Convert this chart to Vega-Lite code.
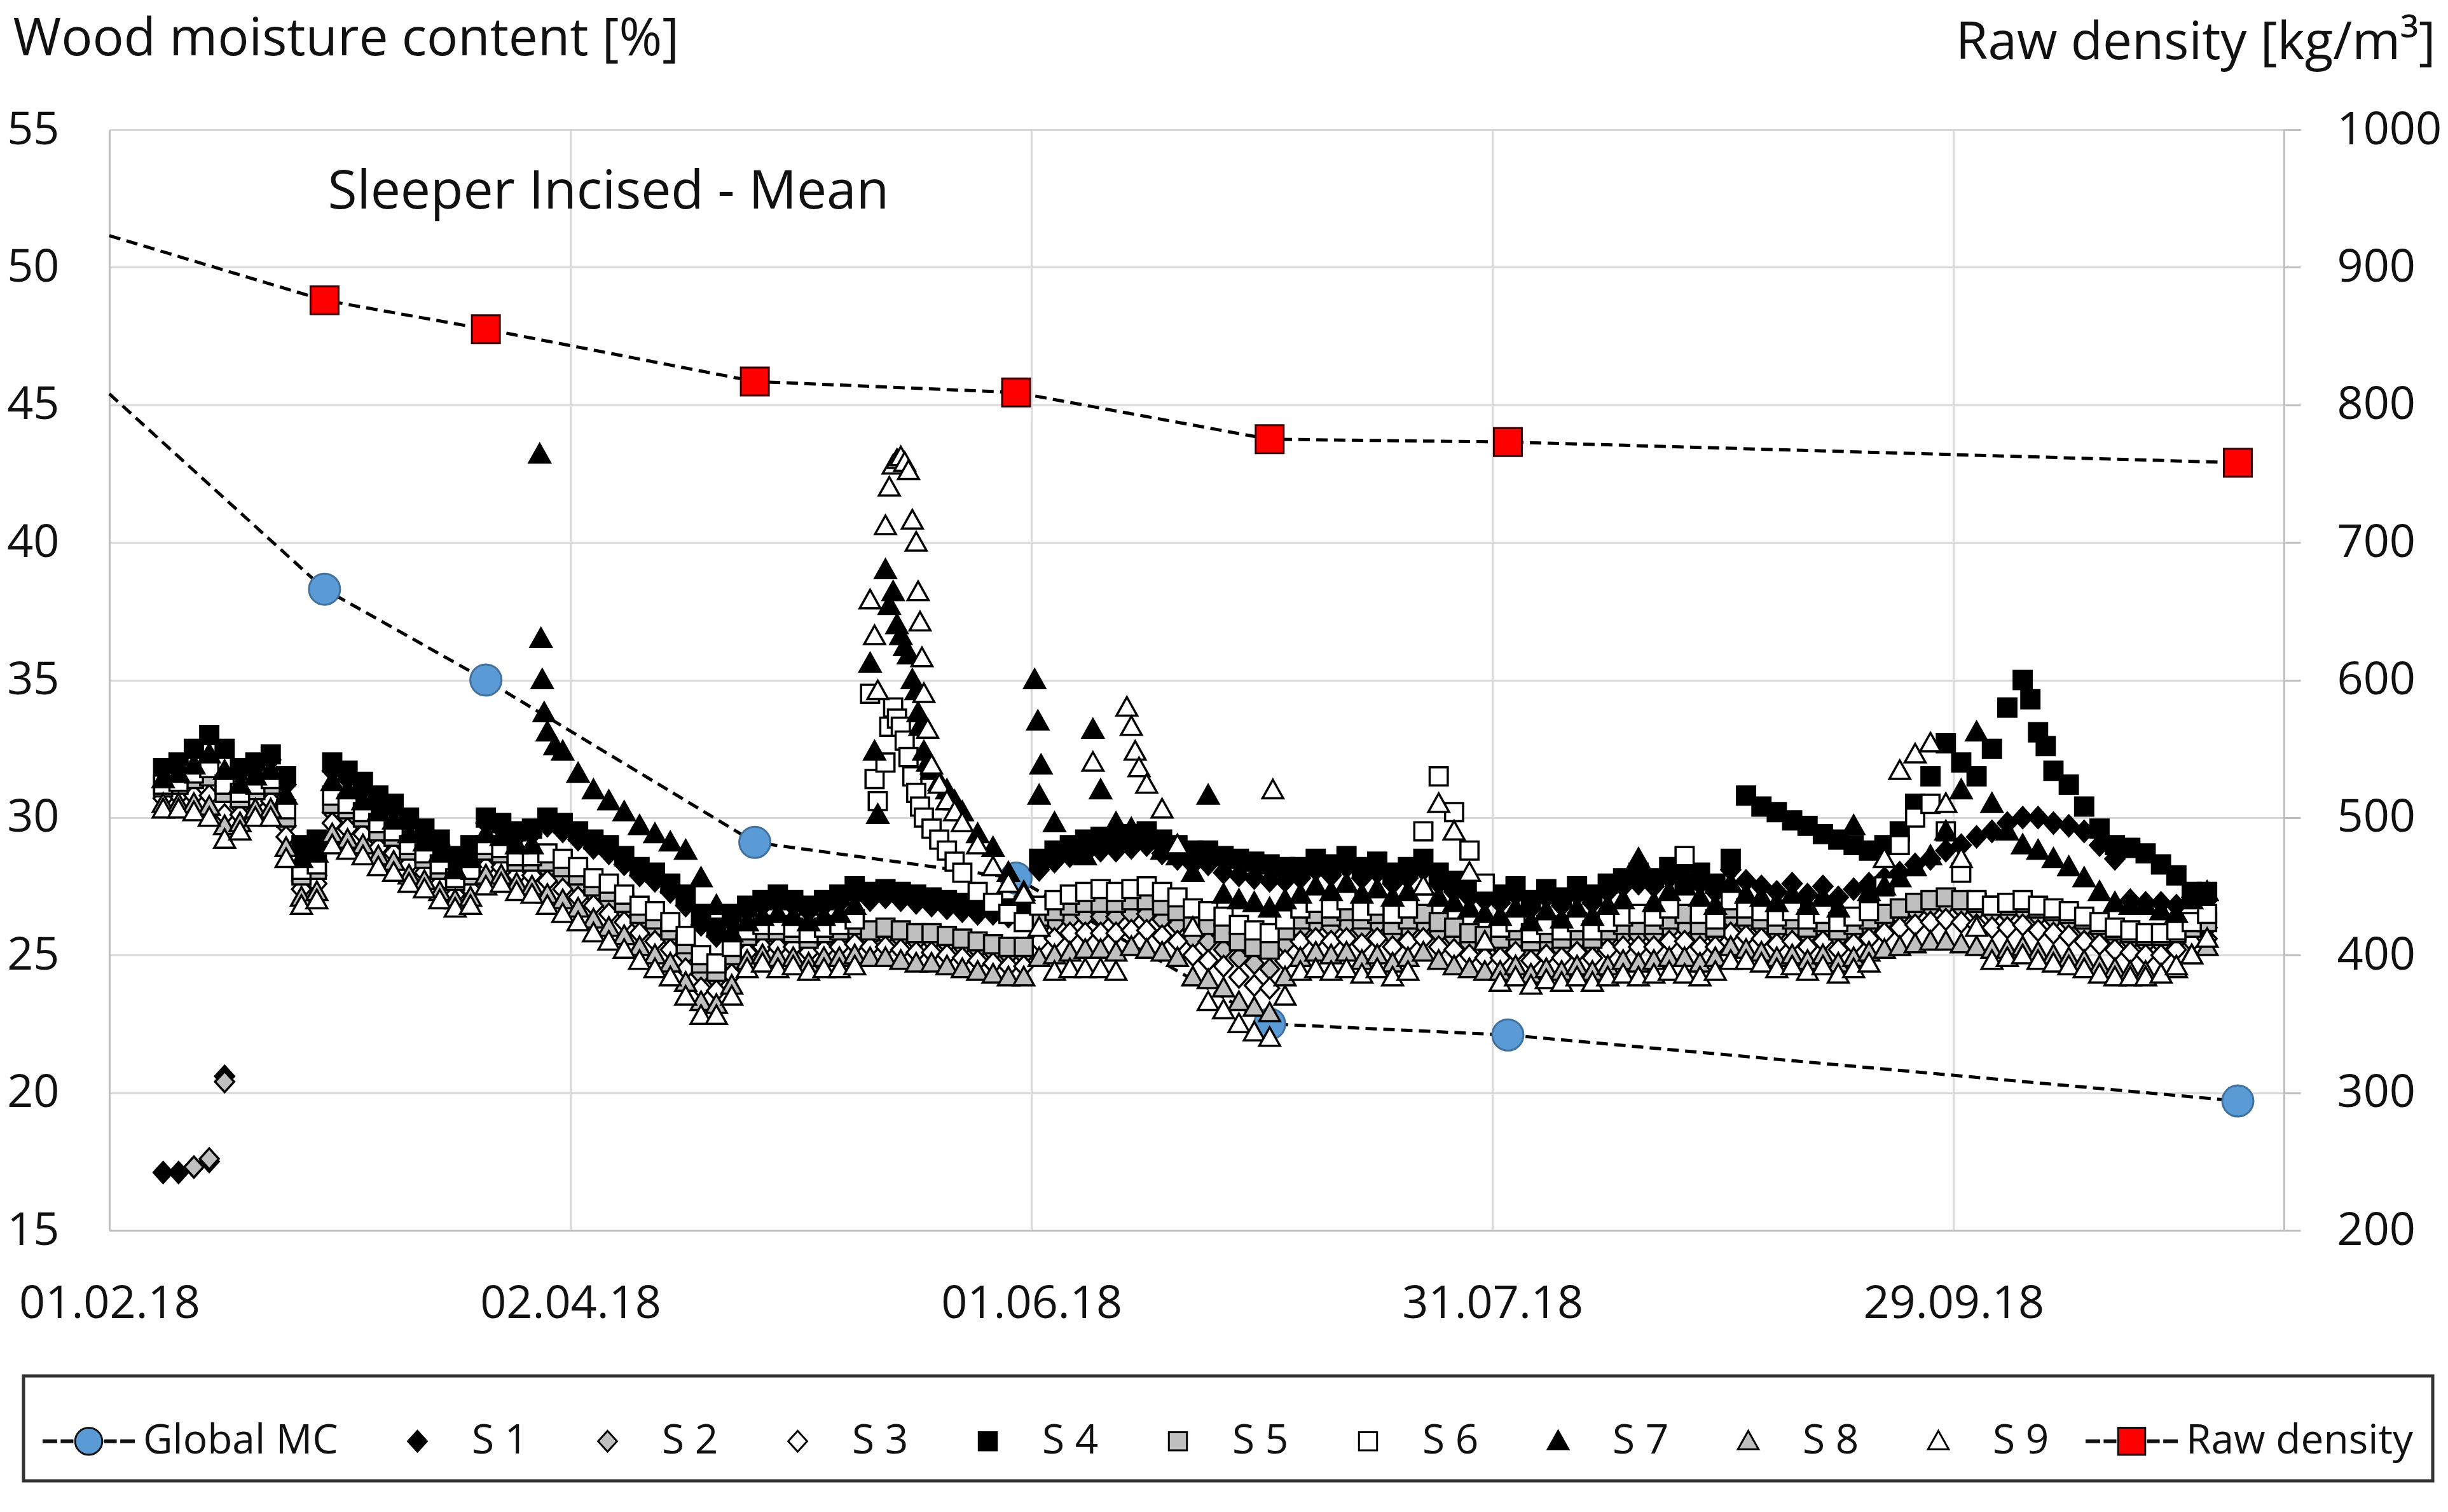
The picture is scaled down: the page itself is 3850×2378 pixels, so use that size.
{
  "$schema": "https://vega.github.io/schema/vega-lite/v6.json",
  "description": "Sleeper incised - mean wood moisture content of sensors S 1 to S 9, global MC and raw density",
  "width": 3420,
  "height": 1731,
  "autosize": "none",
  "padding": {"left": 172, "top": 204, "right": 258, "bottom": 443},
  "background": "white",
  "config": {
    "font": "Open Sans",
    "view": {"stroke": null},
    "axis": {
      "labelFont": "Open Sans", "labelFontSize": 72, "labelColor": "#111111", "labelLimit": 1000,
      "titleFont": "Open Sans", "titleFontSize": 82, "titleFontWeight": "normal", "titleColor": "#111111", "titleLimit": 3000,
      "gridColor": "#d9d9d9", "gridWidth": 3,
      "domainColor": "#bfbfbf", "domainWidth": 3,
      "ticks": false, "tickSize": 0, "labelOverlap": false
    },
    "legend": {
      "padding": 30, "strokeColor": "#333333", "strokeWidth": 5, "fillColor": "white",
      "labelFont": "Open Sans", "labelFontSize": 64, "labelColor": "#111111",
      "labelOffset": 13, "labelLimit": 1000, "columnPadding": 52,
      "symbolSize": 20164, "symbolStrokeWidth": 3, "symbolStrokeColor": "black"
    }
  },
  "datasets": {
    "gmc": [
      {"d": "2018/02/01", "mc": 45.4},
      {"d": "2018/03/01", "mc": 38.3},
      {"d": "2018/03/22", "mc": 35.0},
      {"d": "2018/04/26", "mc": 29.1},
      {"d": "2018/05/30", "mc": 27.8},
      {"d": "2018/07/02", "mc": 22.5},
      {"d": "2018/08/02", "mc": 22.1},
      {"d": "2018/11/05", "mc": 19.7}
    ],
    "dens": [
      {"d": "2018/02/01", "rho": 923},
      {"d": "2018/03/01", "rho": 876},
      {"d": "2018/03/22", "rho": 855},
      {"d": "2018/04/26", "rho": 817},
      {"d": "2018/05/30", "rho": 809},
      {"d": "2018/07/02", "rho": 775},
      {"d": "2018/08/02", "rho": 773},
      {"d": "2018/11/05", "rho": 758}
    ],
    "sens": [
      {"d": "2018/02/08", "S 1": 17.1, "S 3": 30.7, "S 4": 31.8, "S 5": 31.1, "S 6": 31.2, "S 7": 31.4, "S 8": 30.5, "S 9": 30.3},
      {"d": "2018/02/10", "S 1": 17.1, "S 3": 30.8, "S 4": 32.0, "S 5": 31.2, "S 6": 31.3, "S 7": 31.6, "S 8": 30.5, "S 9": 30.3},
      {"d": "2018/02/12", "S 1": 17.3, "S 2": 17.3, "S 3": 30.8, "S 4": 32.5, "S 5": 31.4, "S 6": 31.6, "S 7": 31.9, "S 8": 30.5, "S 9": 30.2},
      {"d": "2018/02/14", "S 1": 17.5, "S 2": 17.6, "S 3": 30.8, "S 4": 33.0, "S 5": 31.5, "S 6": 31.8, "S 7": 32.3, "S 8": 30.4, "S 9": 30.0},
      {"d": "2018/02/16", "S 1": 20.6, "S 2": 20.4, "S 3": 30.1, "S 4": 32.5, "S 5": 30.9, "S 6": 31.2, "S 7": 31.7, "S 8": 29.7, "S 9": 29.2},
      {"d": "2018/02/18", "S 1": 31.6, "S 2": 30.4, "S 3": 30.1, "S 4": 31.8, "S 5": 30.7, "S 6": 30.9, "S 7": 31.2, "S 8": 29.8, "S 9": 29.5},
      {"d": "2018/02/20", "S 1": 31.8, "S 2": 30.8, "S 3": 30.6, "S 4": 32.0, "S 5": 31.0, "S 6": 31.2, "S 7": 31.5, "S 8": 30.3, "S 9": 30.0},
      {"d": "2018/02/22", "S 1": 32.1, "S 2": 30.9, "S 3": 30.6, "S 4": 32.3, "S 5": 31.2, "S 6": 31.4, "S 7": 31.7, "S 8": 30.3, "S 9": 30.0},
      {"d": "2018/02/24", "S 1": 31.2, "S 2": 29.7, "S 3": 29.3, "S 4": 31.5, "S 5": 30.0, "S 6": 30.3, "S 7": 30.8, "S 8": 28.9, "S 9": 28.5},
      {"d": "2018/02/26", "S 1": 28.8, "S 2": 27.7, "S 3": 27.4, "S 4": 29.0, "S 5": 27.9, "S 6": 28.1, "S 7": 28.5, "S 8": 27.1, "S 9": 26.8},
      {"d": "2018/02/28", "S 1": 29.0, "S 2": 27.9, "S 3": 27.6, "S 4": 29.2, "S 5": 28.1, "S 6": 28.3, "S 7": 28.7, "S 8": 27.3, "S 9": 27.0},
      {"d": "2018/03/02", "S 1": 31.7, "S 2": 30.2, "S 3": 29.8, "S 4": 32.0, "S 5": 30.5, "S 6": 30.8, "S 7": 31.3, "S 8": 29.4, "S 9": 29.0},
      {"d": "2018/03/04", "S 1": 31.4, "S 2": 30.0, "S 3": 29.6, "S 4": 31.7, "S 5": 30.3, "S 6": 30.5, "S 7": 31.0, "S 8": 29.2, "S 9": 28.8},
      {"d": "2018/03/06", "S 1": 31.0, "S 2": 29.7, "S 3": 29.4, "S 4": 31.3, "S 5": 30.0, "S 6": 30.2, "S 7": 30.6, "S 8": 29.0, "S 9": 28.6},
      {"d": "2018/03/08", "S 1": 30.5, "S 2": 29.2, "S 3": 28.9, "S 4": 30.8, "S 5": 29.5, "S 6": 29.8, "S 7": 30.2, "S 8": 28.6, "S 9": 28.2},
      {"d": "2018/03/10", "S 1": 30.3, "S 2": 29.0, "S 3": 28.7, "S 4": 30.5, "S 5": 29.3, "S 6": 29.5, "S 7": 29.9, "S 8": 28.4, "S 9": 28.0},
      {"d": "2018/03/12", "S 1": 29.8, "S 2": 28.6, "S 3": 28.3, "S 4": 30.0, "S 5": 28.8, "S 6": 29.0, "S 7": 29.4, "S 8": 27.9, "S 9": 27.6},
      {"d": "2018/03/14", "S 1": 29.4, "S 2": 28.3, "S 3": 28.0, "S 4": 29.6, "S 5": 28.5, "S 6": 28.7, "S 7": 29.1, "S 8": 27.7, "S 9": 27.4},
      {"d": "2018/03/16", "S 1": 29.0, "S 2": 27.9, "S 3": 27.6, "S 4": 29.2, "S 5": 28.1, "S 6": 28.3, "S 7": 28.7, "S 8": 27.3, "S 9": 27.0},
      {"d": "2018/03/18", "S 1": 28.4, "S 2": 27.5, "S 3": 27.2, "S 4": 28.6, "S 5": 27.7, "S 6": 27.8, "S 7": 28.1, "S 8": 27.0, "S 9": 26.7},
      {"d": "2018/03/20", "S 1": 28.8, "S 2": 27.7, "S 3": 27.4, "S 4": 29.0, "S 5": 27.9, "S 6": 28.1, "S 7": 28.5, "S 8": 27.1, "S 9": 26.8},
      {"d": "2018/03/22", "S 1": 29.8, "S 2": 28.5, "S 3": 28.2, "S 4": 30.0, "S 5": 28.8, "S 6": 29.0, "S 7": 29.4, "S 8": 27.9, "S 9": 27.5},
      {"d": "2018/03/24", "S 1": 29.6, "S 2": 28.5, "S 3": 28.2, "S 4": 29.8, "S 5": 28.7, "S 6": 28.9, "S 7": 29.3, "S 8": 27.9, "S 9": 27.6},
      {"d": "2018/03/26", "S 1": 29.3, "S 2": 28.2, "S 3": 27.9, "S 4": 29.5, "S 5": 28.4, "S 6": 28.6, "S 7": 29.0, "S 8": 27.6, "S 9": 27.3},
      {"d": "2018/03/28", "S 1": 29.4, "S 2": 28.2, "S 3": 27.9, "S 4": 29.6, "S 5": 28.4, "S 6": 28.6, "S 7": 29.0, "S 8": 27.5, "S 9": 27.2},
      {"d": "2018/03/29 00:00", "S 7": 43.2},
      {"d": "2018/03/29 04:00", "S 7": 36.5},
      {"d": "2018/03/29 08:00", "S 7": 35.0},
      {"d": "2018/03/29 14:00", "S 7": 33.8},
      {"d": "2018/03/30", "S 1": 29.7, "S 2": 28.1, "S 3": 27.7, "S 4": 30.0, "S 5": 28.4, "S 6": 28.7, "S 7": 33.1, "S 8": 27.2, "S 9": 26.8},
      {"d": "2018/03/31", "S 7": 32.6},
      {"d": "2018/04/01", "S 1": 29.5, "S 2": 27.8, "S 3": 27.4, "S 4": 29.8, "S 5": 28.2, "S 6": 28.5, "S 7": 32.4, "S 8": 27.0, "S 9": 26.5},
      {"d": "2018/04/03", "S 1": 29.2, "S 2": 27.5, "S 3": 27.1, "S 4": 29.5, "S 5": 27.9, "S 6": 28.2, "S 7": 31.6, "S 8": 26.7, "S 9": 26.2},
      {"d": "2018/04/05", "S 1": 28.9, "S 2": 27.2, "S 3": 26.8, "S 4": 29.2, "S 5": 27.5, "S 6": 27.8, "S 7": 31.0, "S 8": 26.3, "S 9": 25.8},
      {"d": "2018/04/07", "S 1": 28.7, "S 2": 26.9, "S 3": 26.5, "S 4": 29.0, "S 5": 27.3, "S 6": 27.6, "S 7": 30.6, "S 8": 26.0, "S 9": 25.5},
      {"d": "2018/04/09", "S 1": 28.3, "S 2": 26.6, "S 3": 26.2, "S 4": 28.6, "S 5": 26.9, "S 6": 27.2, "S 7": 30.2, "S 8": 25.7, "S 9": 25.2},
      {"d": "2018/04/11", "S 1": 27.9, "S 2": 26.2, "S 3": 25.8, "S 4": 28.2, "S 5": 26.5, "S 6": 26.8, "S 7": 29.7, "S 8": 25.3, "S 9": 24.8},
      {"d": "2018/04/13", "S 1": 27.7, "S 2": 25.9, "S 3": 25.5, "S 4": 28.0, "S 5": 26.3, "S 6": 26.6, "S 7": 29.4, "S 8": 25.0, "S 9": 24.5},
      {"d": "2018/04/15", "S 1": 27.3, "S 2": 25.6, "S 3": 25.2, "S 4": 27.6, "S 5": 25.9, "S 6": 26.2, "S 7": 29.1, "S 8": 24.7, "S 9": 24.2},
      {"d": "2018/04/17", "S 1": 26.8, "S 2": 25.0, "S 3": 24.5, "S 4": 27.2, "S 5": 25.4, "S 6": 25.7, "S 7": 28.8, "S 8": 24.0, "S 9": 23.5},
      {"d": "2018/04/19", "S 1": 26.1, "S 2": 24.3, "S 3": 23.8, "S 4": 26.5, "S 5": 24.7, "S 6": 25.0, "S 7": 27.8, "S 8": 23.3, "S 9": 22.8},
      {"d": "2018/04/21", "S 1": 25.7, "S 2": 24.1, "S 3": 23.7, "S 4": 26.0, "S 5": 24.4, "S 6": 24.7, "S 7": 26.8, "S 8": 23.2, "S 9": 22.8},
      {"d": "2018/04/23", "S 1": 26.2, "S 2": 24.7, "S 3": 24.3, "S 4": 26.5, "S 5": 25.0, "S 6": 25.3, "S 7": 25.8, "S 8": 23.9, "S 9": 23.5},
      {"d": "2018/04/25", "S 1": 26.6, "S 2": 25.4, "S 3": 25.1, "S 4": 26.8, "S 5": 25.7, "S 6": 25.9, "S 7": 26.2, "S 8": 24.8, "S 9": 24.5},
      {"d": "2018/04/27", "S 1": 26.8, "S 2": 25.6, "S 3": 25.3, "S 4": 27.0, "S 5": 25.9, "S 6": 26.1, "S 7": 26.4, "S 8": 25.0, "S 9": 24.7},
      {"d": "2018/04/29", "S 1": 26.9, "S 2": 25.6, "S 3": 25.3, "S 4": 27.2, "S 5": 25.9, "S 6": 26.1, "S 7": 26.5, "S 8": 24.9, "S 9": 24.5},
      {"d": "2018/05/01", "S 1": 26.8, "S 2": 25.6, "S 3": 25.3, "S 4": 27.0, "S 5": 25.8, "S 6": 26.0, "S 7": 26.4, "S 8": 24.9, "S 9": 24.6},
      {"d": "2018/05/03", "S 1": 26.6, "S 2": 25.4, "S 3": 25.1, "S 4": 26.8, "S 5": 25.6, "S 6": 25.8, "S 7": 26.2, "S 8": 24.7, "S 9": 24.4},
      {"d": "2018/05/05", "S 1": 26.8, "S 2": 25.5, "S 3": 25.2, "S 4": 27.0, "S 5": 25.8, "S 6": 26.0, "S 7": 26.4, "S 8": 24.9, "S 9": 24.5},
      {"d": "2018/05/07", "S 1": 26.9, "S 2": 25.6, "S 3": 25.3, "S 4": 27.2, "S 5": 25.9, "S 6": 26.1, "S 7": 26.5, "S 8": 24.9, "S 9": 24.5},
      {"d": "2018/05/09", "S 1": 27.2, "S 2": 25.8, "S 3": 25.4, "S 4": 27.5, "S 5": 26.1, "S 6": 26.3, "S 7": 26.8, "S 8": 25.0, "S 9": 24.6},
      {"d": "2018/05/11", "S 1": 27.0, "S 2": 25.6, "S 3": 25.3, "S 4": 27.3, "S 5": 25.9, "S 6": 34.5, "S 7": 35.6, "S 8": 24.9, "S 9": 37.9},
      {"d": "2018/05/11 14:00", "S 6": 31.4, "S 7": 32.4, "S 9": 36.6},
      {"d": "2018/05/12", "S 6": 30.6, "S 7": 30.1, "S 9": 34.6},
      {"d": "2018/05/13", "S 1": 27.1, "S 2": 25.7, "S 3": 25.3, "S 4": 27.4, "S 5": 26.0, "S 6": 32.0, "S 7": 39.0, "S 8": 24.9, "S 9": 40.6},
      {"d": "2018/05/13 12:00", "S 6": 33.3, "S 7": 37.7, "S 9": 42.0},
      {"d": "2018/05/14", "S 6": 34.0, "S 7": 38.2, "S 9": 42.8},
      {"d": "2018/05/14 12:00", "S 6": 33.6, "S 7": 37.0, "S 9": 43.0},
      {"d": "2018/05/15", "S 1": 27.0, "S 2": 25.6, "S 3": 25.2, "S 4": 27.3, "S 5": 25.9, "S 6": 33.3, "S 7": 36.6, "S 8": 24.8, "S 9": 43.1},
      {"d": "2018/05/15 12:00", "S 6": 32.8, "S 7": 36.2, "S 9": 42.9},
      {"d": "2018/05/16", "S 6": 32.2, "S 7": 35.9, "S 9": 42.6},
      {"d": "2018/05/16 12:00", "S 6": 31.5, "S 7": 35.0, "S 9": 40.8},
      {"d": "2018/05/17", "S 1": 26.9, "S 2": 25.5, "S 3": 25.1, "S 4": 27.2, "S 5": 25.8, "S 6": 30.9, "S 7": 34.6, "S 8": 24.7, "S 9": 40.0},
      {"d": "2018/05/17 06:00", "S 7": 33.8, "S 9": 38.2},
      {"d": "2018/05/17 12:00", "S 6": 30.4, "S 7": 33.3, "S 9": 37.1},
      {"d": "2018/05/17 18:00", "S 9": 35.8},
      {"d": "2018/05/18", "S 6": 30.0, "S 7": 32.4, "S 9": 34.5},
      {"d": "2018/05/18 12:00", "S 7": 32.0, "S 9": 33.2},
      {"d": "2018/05/19", "S 1": 26.8, "S 2": 25.5, "S 3": 25.1, "S 4": 27.1, "S 5": 25.8, "S 6": 29.6, "S 7": 31.7, "S 8": 24.7, "S 9": 31.9},
      {"d": "2018/05/20", "S 6": 29.2, "S 7": 31.3, "S 9": 31.2},
      {"d": "2018/05/21", "S 1": 26.7, "S 2": 25.4, "S 3": 25.0, "S 4": 27.0, "S 5": 25.7, "S 6": 28.8, "S 7": 31.0, "S 8": 24.6, "S 9": 30.6},
      {"d": "2018/05/22", "S 6": 28.4, "S 7": 30.6, "S 9": 30.2},
      {"d": "2018/05/23", "S 1": 26.6, "S 2": 25.3, "S 3": 24.9, "S 4": 26.9, "S 5": 25.6, "S 6": 28.0, "S 7": 30.2, "S 8": 24.5, "S 9": 29.8},
      {"d": "2018/05/25", "S 1": 26.5, "S 2": 25.2, "S 3": 24.8, "S 4": 26.8, "S 5": 25.5, "S 6": 27.3, "S 7": 29.4, "S 8": 24.4, "S 9": 29.0},
      {"d": "2018/05/27", "S 1": 26.5, "S 2": 25.1, "S 3": 24.7, "S 4": 26.8, "S 5": 25.4, "S 6": 26.9, "S 7": 28.9, "S 8": 24.3, "S 9": 28.2},
      {"d": "2018/05/29", "S 1": 26.4, "S 2": 25.0, "S 3": 24.6, "S 4": 26.7, "S 5": 25.3, "S 6": 26.5, "S 7": 28.0, "S 8": 24.2, "S 9": 27.6},
      {"d": "2018/05/31", "S 1": 26.5, "S 2": 25.0, "S 3": 24.6, "S 4": 26.8, "S 5": 25.3, "S 6": 26.2, "S 7": 27.3, "S 8": 24.2, "S 9": 27.2},
      {"d": "2018/06/01 10:00", "S 7": 35.0},
      {"d": "2018/06/01 20:00", "S 7": 33.5},
      {"d": "2018/06/02 06:00", "S 7": 31.9},
      {"d": "2018/06/02", "S 1": 28.1, "S 2": 26.0, "S 3": 25.5, "S 4": 28.5, "S 5": 26.4, "S 6": 26.8, "S 7": 30.8, "S 8": 24.9, "S 9": 26.0},
      {"d": "2018/06/04", "S 1": 28.4, "S 2": 26.2, "S 3": 25.6, "S 4": 28.8, "S 5": 26.6, "S 6": 27.0, "S 7": 29.8, "S 8": 25.0, "S 9": 24.4},
      {"d": "2018/06/06", "S 1": 28.6, "S 2": 26.3, "S 3": 25.8, "S 4": 29.0, "S 5": 26.8, "S 6": 27.2, "S 7": 28.9, "S 8": 25.1, "S 9": 24.5},
      {"d": "2018/06/08", "S 1": 28.7, "S 2": 26.4, "S 3": 25.8, "S 4": 29.2, "S 5": 26.9, "S 6": 27.3, "S 7": 28.6, "S 8": 25.2, "S 9": 24.5},
      {"d": "2018/06/09", "S 7": 33.2, "S 9": 32.0},
      {"d": "2018/06/10", "S 1": 28.8, "S 2": 26.4, "S 3": 25.8, "S 4": 29.3, "S 5": 26.9, "S 6": 27.4, "S 7": 31.0, "S 8": 25.2, "S 9": 24.5},
      {"d": "2018/06/12", "S 1": 28.8, "S 2": 26.4, "S 3": 25.8, "S 4": 29.3, "S 5": 26.9, "S 6": 27.3, "S 7": 29.8, "S 8": 25.1, "S 9": 24.4},
      {"d": "2018/06/13 10:00", "S 9": 34.0},
      {"d": "2018/06/14", "S 1": 28.9, "S 2": 26.5, "S 3": 25.9, "S 4": 29.4, "S 5": 27.0, "S 6": 27.4, "S 7": 29.6, "S 8": 25.3, "S 9": 33.3},
      {"d": "2018/06/14 12:00", "S 9": 32.4},
      {"d": "2018/06/15", "S 9": 31.8},
      {"d": "2018/06/16", "S 1": 29.0, "S 2": 26.5, "S 3": 25.9, "S 4": 29.5, "S 5": 27.0, "S 6": 27.5, "S 7": 29.4, "S 8": 25.2, "S 9": 31.2},
      {"d": "2018/06/18", "S 1": 28.7, "S 2": 26.3, "S 3": 25.7, "S 4": 29.2, "S 5": 26.8, "S 6": 27.3, "S 7": 28.8, "S 8": 25.1, "S 9": 30.3},
      {"d": "2018/06/20", "S 1": 28.5, "S 2": 26.1, "S 3": 25.5, "S 4": 29.0, "S 5": 26.6, "S 6": 27.1, "S 7": 28.6, "S 8": 24.9, "S 9": 29.0},
      {"d": "2018/06/22", "S 1": 28.3, "S 2": 25.6, "S 3": 25.0, "S 4": 28.8, "S 5": 26.2, "S 6": 26.7, "S 7": 28.0, "S 8": 24.2, "S 9": 26.0},
      {"d": "2018/06/24", "S 1": 28.3, "S 2": 25.5, "S 3": 24.8, "S 4": 28.8, "S 5": 26.1, "S 6": 26.6, "S 7": 30.8, "S 8": 24.1, "S 9": 23.3},
      {"d": "2018/06/26", "S 1": 28.0, "S 2": 25.2, "S 3": 24.6, "S 4": 28.6, "S 5": 25.8, "S 6": 26.4, "S 7": 27.2, "S 8": 23.8, "S 9": 23.0},
      {"d": "2018/06/28", "S 1": 27.9, "S 2": 24.9, "S 3": 24.2, "S 4": 28.5, "S 5": 25.5, "S 6": 26.1, "S 7": 27.0, "S 8": 23.3, "S 9": 22.5},
      {"d": "2018/06/30", "S 1": 27.8, "S 2": 24.7, "S 3": 23.9, "S 4": 28.4, "S 5": 25.3, "S 6": 25.9, "S 7": 26.9, "S 8": 23.1, "S 9": 22.2},
      {"d": "2018/07/02", "S 1": 27.7, "S 2": 24.5, "S 3": 23.8, "S 4": 28.3, "S 5": 25.2, "S 6": 25.8, "S 7": 26.7, "S 8": 22.9, "S 9": 22.0},
      {"d": "2018/07/02 10:00", "S 9": 31.0},
      {"d": "2018/07/04", "S 1": 27.7, "S 2": 25.4, "S 3": 24.8, "S 4": 28.2, "S 5": 25.9, "S 6": 26.3, "S 7": 27.0, "S 8": 24.2, "S 9": 23.5},
      {"d": "2018/07/06", "S 1": 27.8, "S 2": 25.9, "S 3": 25.5, "S 4": 28.2, "S 5": 26.3, "S 6": 26.7, "S 7": 27.2, "S 8": 24.9, "S 9": 24.4},
      {"d": "2018/07/08", "S 1": 28.1, "S 2": 26.1, "S 3": 25.6, "S 4": 28.5, "S 5": 26.5, "S 6": 26.9, "S 7": 27.5, "S 8": 25.1, "S 9": 24.5},
      {"d": "2018/07/10", "S 1": 27.9, "S 2": 26.0, "S 3": 25.5, "S 4": 28.3, "S 5": 26.4, "S 6": 26.7, "S 7": 27.3, "S 8": 25.0, "S 9": 24.4},
      {"d": "2018/07/12", "S 1": 28.2, "S 2": 26.1, "S 3": 25.6, "S 4": 28.6, "S 5": 26.6, "S 6": 27.0, "S 7": 27.6, "S 8": 25.1, "S 9": 24.5},
      {"d": "2018/07/14", "S 1": 27.8, "S 2": 25.9, "S 3": 25.4, "S 4": 28.2, "S 5": 26.3, "S 6": 26.6, "S 7": 27.2, "S 8": 24.8, "S 9": 24.3},
      {"d": "2018/07/16", "S 1": 28.0, "S 2": 26.1, "S 3": 25.6, "S 4": 28.4, "S 5": 26.5, "S 6": 26.8, "S 7": 27.4, "S 8": 25.0, "S 9": 24.5},
      {"d": "2018/07/18", "S 1": 27.6, "S 2": 25.7, "S 3": 25.3, "S 4": 28.0, "S 5": 26.1, "S 6": 26.5, "S 7": 27.1, "S 8": 24.7, "S 9": 24.2},
      {"d": "2018/07/20", "S 1": 27.8, "S 2": 25.9, "S 3": 25.5, "S 4": 28.2, "S 5": 26.3, "S 6": 26.7, "S 7": 27.3, "S 8": 24.9, "S 9": 24.4},
      {"d": "2018/07/22", "S 1": 28.1, "S 2": 26.1, "S 3": 25.6, "S 4": 28.5, "S 5": 26.5, "S 6": 29.5, "S 7": 27.5, "S 8": 25.1, "S 9": 27.5},
      {"d": "2018/07/24", "S 1": 27.6, "S 2": 25.8, "S 3": 25.3, "S 4": 28.0, "S 5": 26.2, "S 6": 31.5, "S 7": 27.1, "S 8": 24.8, "S 9": 30.5},
      {"d": "2018/07/26", "S 1": 27.3, "S 2": 25.6, "S 3": 25.2, "S 4": 27.7, "S 5": 26.0, "S 6": 30.2, "S 7": 26.9, "S 8": 24.6, "S 9": 29.5},
      {"d": "2018/07/28", "S 1": 27.1, "S 2": 25.4, "S 3": 25.0, "S 4": 27.5, "S 5": 25.8, "S 6": 28.8, "S 7": 26.7, "S 8": 24.5, "S 9": 28.0},
      {"d": "2018/07/30", "S 1": 27.0, "S 2": 25.3, "S 3": 24.9, "S 4": 27.3, "S 5": 25.7, "S 6": 27.6, "S 7": 26.5, "S 8": 24.4, "S 9": 25.5},
      {"d": "2018/08/01", "S 1": 26.9, "S 2": 25.3, "S 3": 24.9, "S 4": 27.2, "S 5": 25.6, "S 6": 26.0, "S 7": 26.4, "S 8": 24.4, "S 9": 24.0},
      {"d": "2018/08/03", "S 1": 27.2, "S 2": 25.5, "S 3": 25.1, "S 4": 27.5, "S 5": 25.9, "S 6": 26.2, "S 7": 26.7, "S 8": 24.6, "S 9": 24.2},
      {"d": "2018/08/05", "S 1": 26.7, "S 2": 25.1, "S 3": 24.8, "S 4": 27.0, "S 5": 25.5, "S 6": 25.8, "S 7": 26.2, "S 8": 24.3, "S 9": 23.9},
      {"d": "2018/08/07", "S 1": 27.1, "S 2": 25.4, "S 3": 25.0, "S 4": 27.4, "S 5": 25.8, "S 6": 26.1, "S 7": 26.6, "S 8": 24.5, "S 9": 24.1},
      {"d": "2018/08/09", "S 1": 26.8, "S 2": 25.2, "S 3": 24.9, "S 4": 27.1, "S 5": 25.6, "S 6": 25.9, "S 7": 26.3, "S 8": 24.4, "S 9": 24.0},
      {"d": "2018/08/11", "S 1": 27.2, "S 2": 25.5, "S 3": 25.1, "S 4": 27.5, "S 5": 25.9, "S 6": 26.2, "S 7": 26.7, "S 8": 24.6, "S 9": 24.2},
      {"d": "2018/08/13", "S 1": 26.9, "S 2": 25.3, "S 3": 24.9, "S 4": 27.2, "S 5": 25.6, "S 6": 25.9, "S 7": 26.4, "S 8": 24.4, "S 9": 24.0},
      {"d": "2018/08/15", "S 1": 27.3, "S 2": 25.6, "S 3": 25.2, "S 4": 27.6, "S 5": 25.9, "S 6": 26.2, "S 7": 26.8, "S 8": 24.6, "S 9": 24.2},
      {"d": "2018/08/17", "S 1": 27.5, "S 2": 25.7, "S 3": 25.3, "S 4": 27.8, "S 5": 26.1, "S 6": 26.4, "S 7": 27.0, "S 8": 24.8, "S 9": 24.3},
      {"d": "2018/08/19", "S 1": 27.6, "S 2": 25.7, "S 3": 25.3, "S 4": 28.0, "S 5": 26.1, "S 6": 26.5, "S 7": 28.5, "S 8": 24.7, "S 9": 24.2},
      {"d": "2018/08/21", "S 1": 27.5, "S 2": 25.7, "S 3": 25.3, "S 4": 27.8, "S 5": 26.1, "S 6": 26.4, "S 7": 26.9, "S 8": 24.8, "S 9": 24.3},
      {"d": "2018/08/23", "S 1": 27.8, "S 2": 25.9, "S 3": 25.5, "S 4": 28.2, "S 5": 26.3, "S 6": 26.7, "S 7": 27.3, "S 8": 24.9, "S 9": 24.4},
      {"d": "2018/08/25", "S 1": 28.2, "S 2": 26.0, "S 3": 25.5, "S 4": 27.6, "S 5": 26.5, "S 6": 28.6, "S 7": 27.5, "S 8": 24.9, "S 9": 24.3},
      {"d": "2018/08/27", "S 1": 27.6, "S 2": 25.7, "S 3": 25.3, "S 4": 28.0, "S 5": 26.1, "S 6": 26.5, "S 7": 27.1, "S 8": 24.7, "S 9": 24.2},
      {"d": "2018/08/29", "S 1": 27.3, "S 2": 25.7, "S 3": 25.3, "S 4": 27.6, "S 5": 26.0, "S 6": 26.3, "S 7": 26.8, "S 8": 24.9, "S 9": 24.4},
      {"d": "2018/08/31", "S 1": 28.1, "S 2": 26.3, "S 3": 25.8, "S 4": 28.5, "S 5": 26.7, "S 6": 27.0, "S 7": 27.6, "S 8": 25.3, "S 9": 24.8},
      {"d": "2018/09/02", "S 1": 27.7, "S 2": 26.1, "S 3": 25.7, "S 4": 30.8, "S 5": 26.4, "S 6": 26.7, "S 7": 27.2, "S 8": 25.2, "S 9": 24.8},
      {"d": "2018/09/04", "S 1": 27.5, "S 2": 26.0, "S 3": 25.6, "S 4": 30.4, "S 5": 26.3, "S 6": 26.6, "S 7": 27.1, "S 8": 25.1, "S 9": 24.7},
      {"d": "2018/09/06", "S 1": 27.3, "S 2": 25.8, "S 3": 25.4, "S 4": 30.2, "S 5": 26.1, "S 6": 26.4, "S 7": 26.9, "S 8": 24.9, "S 9": 24.5},
      {"d": "2018/09/08", "S 1": 27.6, "S 2": 25.9, "S 3": 25.5, "S 4": 29.9, "S 5": 26.3, "S 6": 26.6, "S 7": 27.2, "S 8": 25.0, "S 9": 24.6},
      {"d": "2018/09/10", "S 1": 27.2, "S 2": 25.7, "S 3": 25.3, "S 4": 29.7, "S 5": 26.0, "S 6": 26.3, "S 7": 26.8, "S 8": 24.8, "S 9": 24.4},
      {"d": "2018/09/12", "S 1": 27.5, "S 2": 25.9, "S 3": 25.5, "S 4": 29.4, "S 5": 26.2, "S 6": 26.5, "S 7": 27.1, "S 8": 25.0, "S 9": 24.6},
      {"d": "2018/09/14", "S 1": 27.1, "S 2": 25.6, "S 3": 25.2, "S 4": 29.2, "S 5": 25.9, "S 6": 26.2, "S 7": 26.7, "S 8": 24.7, "S 9": 24.3},
      {"d": "2018/09/16", "S 1": 27.4, "S 2": 25.8, "S 3": 25.4, "S 4": 29.0, "S 5": 26.1, "S 6": 26.4, "S 7": 29.7, "S 8": 24.9, "S 9": 24.5},
      {"d": "2018/09/18", "S 1": 27.6, "S 2": 26.0, "S 3": 25.6, "S 4": 28.8, "S 5": 26.3, "S 6": 26.6, "S 7": 27.3, "S 8": 25.1, "S 9": 24.7},
      {"d": "2018/09/20", "S 1": 27.8, "S 2": 26.2, "S 3": 25.8, "S 4": 29.0, "S 5": 26.5, "S 6": 27.5, "S 7": 27.5, "S 8": 25.2, "S 9": 28.5},
      {"d": "2018/09/22", "S 1": 28.0, "S 2": 26.4, "S 3": 26.0, "S 4": 29.5, "S 5": 26.7, "S 6": 29.0, "S 7": 27.8, "S 8": 25.3, "S 9": 31.7},
      {"d": "2018/09/24", "S 1": 28.3, "S 2": 26.6, "S 3": 26.1, "S 4": 30.5, "S 5": 26.9, "S 6": 30.0, "S 7": 28.2, "S 8": 25.4, "S 9": 32.3},
      {"d": "2018/09/26", "S 1": 28.5, "S 2": 26.7, "S 3": 26.2, "S 4": 31.5, "S 5": 27.0, "S 6": 30.5, "S 7": 28.6, "S 8": 25.5, "S 9": 32.7},
      {"d": "2018/09/28", "S 1": 28.8, "S 2": 26.8, "S 3": 26.3, "S 4": 32.7, "S 5": 27.1, "S 6": 29.5, "S 7": 29.5, "S 8": 25.5, "S 9": 30.5},
      {"d": "2018/09/30", "S 1": 29.0, "S 2": 26.7, "S 3": 26.2, "S 4": 32.0, "S 5": 27.0, "S 6": 28.0, "S 7": 31.0, "S 8": 25.4, "S 9": 28.5},
      {"d": "2018/10/02", "S 1": 29.3, "S 2": 26.6, "S 3": 26.1, "S 4": 31.5, "S 5": 26.9, "S 6": 27.0, "S 7": 33.1, "S 8": 25.3, "S 9": 26.0},
      {"d": "2018/10/04", "S 1": 29.5, "S 2": 26.5, "S 3": 26.0, "S 4": 32.5, "S 5": 26.8, "S 6": 26.8, "S 7": 30.5, "S 8": 25.2, "S 9": 24.8},
      {"d": "2018/10/06", "S 1": 29.8, "S 2": 26.5, "S 3": 26.0, "S 4": 34.0, "S 5": 26.8, "S 6": 26.9, "S 7": 29.5, "S 8": 25.2, "S 9": 24.9},
      {"d": "2018/10/08", "S 1": 30.0, "S 2": 26.6, "S 3": 26.1, "S 4": 35.0, "S 5": 26.9, "S 6": 27.0, "S 7": 29.0, "S 8": 25.3, "S 9": 25.0},
      {"d": "2018/10/09", "S 4": 34.3},
      {"d": "2018/10/10", "S 1": 30.0, "S 2": 26.4, "S 3": 25.9, "S 4": 33.1, "S 5": 26.7, "S 6": 26.8, "S 7": 28.8, "S 8": 25.1, "S 9": 24.8},
      {"d": "2018/10/11", "S 4": 32.6},
      {"d": "2018/10/12", "S 1": 29.8, "S 2": 26.3, "S 3": 25.8, "S 4": 31.7, "S 5": 26.6, "S 6": 26.7, "S 7": 28.5, "S 8": 25.0, "S 9": 24.7},
      {"d": "2018/10/14", "S 1": 29.7, "S 2": 26.2, "S 3": 25.7, "S 4": 31.2, "S 5": 26.5, "S 6": 26.6, "S 7": 28.2, "S 8": 24.9, "S 9": 24.6},
      {"d": "2018/10/16", "S 1": 29.5, "S 2": 26.0, "S 3": 25.5, "S 4": 30.4, "S 5": 26.3, "S 6": 26.4, "S 7": 27.8, "S 8": 24.8, "S 9": 24.5},
      {"d": "2018/10/18", "S 1": 29.0, "S 2": 25.8, "S 3": 25.4, "S 4": 29.6, "S 5": 26.1, "S 6": 26.2, "S 7": 27.3, "S 8": 24.6, "S 9": 24.3},
      {"d": "2018/10/20", "S 1": 28.5, "S 2": 25.6, "S 3": 25.2, "S 4": 29.0, "S 5": 25.9, "S 6": 26.0, "S 7": 26.9, "S 8": 24.5, "S 9": 24.2},
      {"d": "2018/10/22", "S 1": 27.0, "S 2": 25.5, "S 3": 25.1, "S 4": 28.9, "S 5": 25.8, "S 6": 25.9, "S 7": 26.8, "S 8": 24.4, "S 9": 24.2},
      {"d": "2018/10/24", "S 1": 26.9, "S 2": 25.4, "S 3": 25.0, "S 4": 28.7, "S 5": 25.7, "S 6": 25.8, "S 7": 26.8, "S 8": 24.4, "S 9": 24.2},
      {"d": "2018/10/26", "S 1": 26.9, "S 2": 25.4, "S 3": 25.0, "S 4": 28.3, "S 5": 25.7, "S 6": 25.8, "S 7": 26.6, "S 8": 24.3, "S 9": 24.3},
      {"d": "2018/10/28", "S 1": 26.8, "S 2": 25.5, "S 3": 25.2, "S 4": 27.9, "S 5": 25.8, "S 6": 25.9, "S 7": 26.5, "S 8": 24.5, "S 9": 24.6},
      {"d": "2018/10/30", "S 1": 27.1, "S 2": 25.8, "S 3": 25.5, "S 4": 27.3, "S 5": 26.0, "S 6": 26.2, "S 7": 27.0, "S 8": 25.0, "S 9": 25.0},
      {"d": "2018/11/01", "S 1": 27.0, "S 2": 26.0, "S 3": 25.6, "S 4": 27.3, "S 5": 26.2, "S 6": 26.5, "S 7": 27.3, "S 8": 25.3, "S 9": 25.6}
    ]
  },
  "layer": [
    {
      "layer": [
        {
          "data": {"name": "gmc"},
          "mark": {"type": "line", "stroke": "black", "strokeWidth": 5, "strokeDash": [18, 10]},
          "encoding": {
            "x": {
              "field": "d", "type": "temporal",
              "scale": {"domain": [{"year": 2018, "month": 2, "date": 1}, {"year": 2018, "month": 11, "date": 11}]},
              "axis": {
                "values": [
                  {"year": 2018, "month": 2, "date": 1},
                  {"year": 2018, "month": 4, "date": 2},
                  {"year": 2018, "month": 6, "date": 1},
                  {"year": 2018, "month": 7, "date": 31},
                  {"year": 2018, "month": 9, "date": 29}
                ],
                "format": "%d.%m.%y", "title": null, "grid": true,
                "labelFlush": false, "labelBaseline": "alphabetic", "labelPadding": 137
              }
            },
            "y": {
              "field": "mc", "type": "quantitative",
              "scale": {"domain": [15, 55]},
              "axis": {
                "values": [15, 20, 25, 30, 35, 40, 45, 50, 55],
                "title": "Wood moisture content [%]",
                "titleAngle": 0, "titleAlign": "left", "titleBaseline": "alphabetic",
                "titleX": -152, "titleY": -118,
                "labelPadding": 79, "grid": true
              }
            }
          }
        },
        {
          "data": {"name": "gmc"},
          "transform": [{"filter": "toDate(datum.d) > toDate('2018/02/02')"}],
          "mark": {"type": "point", "shape": "circle", "filled": true, "fill": "#5b9bd5", "stroke": "#41719c", "strokeWidth": 3, "size": 2400, "opacity": 1},
          "encoding": {
            "x": {"field": "d", "type": "temporal", "scale": {"domain": [{"year": 2018, "month": 2, "date": 1}, {"year": 2018, "month": 11, "date": 11}]}},
            "y": {"field": "mc", "type": "quantitative", "scale": {"domain": [15, 55]}}
          }
        },
        {
          "data": {"name": "sens"},
          "transform": [
            {"fold": ["S 1", "S 2", "S 3", "S 4", "S 5", "S 6", "S 7", "S 8", "S 9"], "as": ["series", "mc"]},
            {"filter": "isValid(datum.mc)"}
          ],
          "mark": {"type": "point", "filled": true, "strokeWidth": 3.5, "size": 20164, "opacity": 1},
          "encoding": {
            "x": {"field": "d", "type": "temporal", "scale": {"domain": [{"year": 2018, "month": 2, "date": 1}, {"year": 2018, "month": 11, "date": 11}]}},
            "y": {"field": "mc", "type": "quantitative", "scale": {"domain": [15, 55]}},
            "order": {"field": "series"},
            "shape": {
              "field": "series", "type": "nominal",
              "scale": {
                "domain": ["Global MC", "S 1", "S 2", "S 3", "S 4", "S 5", "S 6", "S 7", "S 8", "S 9", "Raw density"],
                "range": [
                  "M-1,-0.02H-0.72V0.02H-1ZM-0.6,-0.02H-0.36V0.02H-0.6ZM0.36,-0.02H0.6V0.02H0.36ZM0.72,-0.02H1V0.02H0.72ZM0.3,0A0.3,0.3,0,1,1,-0.3,0A0.3,0.3,0,1,1,0.3,0Z",
                  "M0,-0.23L0.21,0L0,0.23L-0.21,0Z",
                  "M0,-0.23L0.21,0L0,0.23L-0.21,0Z",
                  "M0,-0.23L0.21,0L0,0.23L-0.21,0Z",
                  "M-0.2,-0.2H0.2V0.2H-0.2Z",
                  "M-0.2,-0.2H0.2V0.2H-0.2Z",
                  "M-0.2,-0.2H0.2V0.2H-0.2Z",
                  "M0,-0.23L0.23,0.18L-0.23,0.18Z",
                  "M0,-0.23L0.23,0.18L-0.23,0.18Z",
                  "M0,-0.23L0.23,0.18L-0.23,0.18Z",
                  "M-1,-0.02H-0.72V0.02H-1ZM-0.6,-0.02H-0.36V0.02H-0.6ZM0.36,-0.02H0.6V0.02H0.36ZM0.72,-0.02H1V0.02H0.72ZM-0.3,-0.3H0.3V0.3H-0.3Z"
                ]
              },
              "legend": {"title": null, "orient": "none", "legendX": -135, "legendY": 1960, "direction": "horizontal"}
            },
            "fill": {
              "field": "series", "type": "nominal",
              "scale": {
                "domain": ["Global MC", "S 1", "S 2", "S 3", "S 4", "S 5", "S 6", "S 7", "S 8", "S 9", "Raw density"],
                "range": ["#5b9bd5", "#000000", "#bfbfbf", "#ffffff", "#000000", "#bfbfbf", "#ffffff", "#000000", "#bfbfbf", "#ffffff", "#ff0000"]
              },
              "legend": {"title": null, "orient": "none", "legendX": -135, "legendY": 1960, "direction": "horizontal"}
            },
            "stroke": {
              "field": "series", "type": "nominal",
              "scale": {
                "domain": ["Global MC", "S 1", "S 2", "S 3", "S 4", "S 5", "S 6", "S 7", "S 8", "S 9", "Raw density"],
                "range": ["#111111", "#000000", "#000000", "#000000", "#000000", "#000000", "#000000", "#000000", "#000000", "#000000", "#111111"]
              },
              "legend": {"title": null, "orient": "none", "legendX": -135, "legendY": 1960, "direction": "horizontal"}
            }
          }
        },
        {
          "data": {"values": [{}]},
          "mark": {"type": "text", "font": "Open Sans", "fontSize": 84, "color": "#111111", "align": "left", "baseline": "alphabetic"},
          "encoding": {
            "x": {"datum": {"year": 2018, "month": 3, "date": 1, "hours": 10}, "type": "temporal"},
            "y": {"datum": 52.13, "type": "quantitative"},
            "text": {"value": "Sleeper Incised - Mean"}
          }
        }
      ]
    },
    {
      "data": {"name": "dens"},
      "layer": [
        {
          "mark": {"type": "line", "stroke": "black", "strokeWidth": 5, "strokeDash": [18, 10]},
          "encoding": {
            "x": {"field": "d", "type": "temporal", "scale": {"domain": [{"year": 2018, "month": 2, "date": 1}, {"year": 2018, "month": 11, "date": 11}]}},
            "y": {
              "field": "rho", "type": "quantitative",
              "scale": {"domain": [200, 1000]},
              "axis": {
                "orient": "right",
                "values": [200, 300, 400, 500, 600, 700, 800, 900, 1000],
                "format": "d",
                "title": "Raw density [kg/m³]",
                "titleAngle": 0, "titleAlign": "right", "titleBaseline": "alphabetic",
                "titleX": 238, "titleY": -112,
                "grid": false, "ticks": true, "tickSize": 26, "tickColor": "#bfbfbf", "tickWidth": 3,
                "labelPadding": 57
              }
            }
          }
        },
        {
          "transform": [{"filter": "toDate(datum.d) > toDate('2018/02/02')"}],
          "mark": {"type": "point", "shape": "square", "filled": true, "fill": "#ff0000", "stroke": "#3a0000", "strokeWidth": 3, "size": 1936, "opacity": 1},
          "encoding": {
            "x": {"field": "d", "type": "temporal", "scale": {"domain": [{"year": 2018, "month": 2, "date": 1}, {"year": 2018, "month": 11, "date": 11}]}},
            "y": {"field": "rho", "type": "quantitative", "scale": {"domain": [200, 1000]}}
          }
        }
      ]
    }
  ],
  "resolve": {"scale": {"y": "independent"}}
}
